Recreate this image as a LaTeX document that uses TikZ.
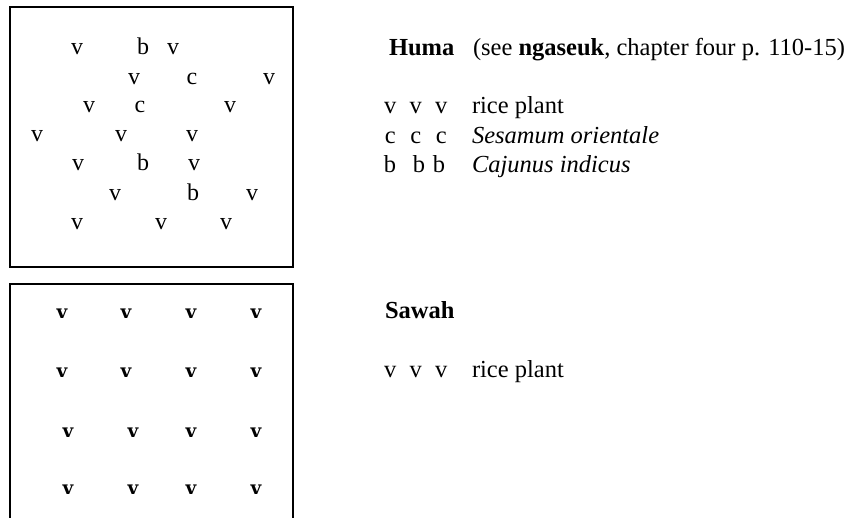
\documentclass[tikz,border=0pt]{standalone}
\usepackage{fontspec}
\setmainfont{Liberation Serif}
\newfontfamily\slabfont{DejaVu Serif}
\newcommand{\trio}[1]{\makebox[25.5pt]{#1}\makebox[25.5pt]{#1}\makebox[25.5pt]{#1}}
\tikzset{
  every node/.style={inner sep=0pt, outer sep=0pt},
  plant/.style={anchor=base, font=\fontsize{24}{26}\selectfont},
  splant/.style={anchor=base, font=\slabfont\bfseries\fontsize{18.5}{20}\selectfont},
  txt/.style={anchor=base west, font=\fontsize{24.5}{26}\selectfont},
  field/.style={line width=2.6pt, line join=miter},
}
\begin{document}
\begin{tikzpicture}[x=1pt,y=-1pt]
\useasboundingbox (0,0) rectangle (861,517);
% Huma field
\draw[field] (10,7) rectangle (293,267);
\foreach \x/\y/\t [count=\i] in {
  77/54/v,143/54/b,173/54/v,
  134/84/v,192/84/c,269/84/v,
  89/112/v,140/112/c,230/112/v,
  37/141/v,121/141/v,192/141/v,
  78/170/v,143/170/b,194/170/v,
  115/200/v,193/200/b,252/200/v,
  77/229/v,161/229/v,226/229/v}
  \node[plant] (h\i) at (\x,\y) {\t};
% Sawah field
\draw[field] (10,530) -- (10,284) -- (293,284) -- (293,530);
\foreach \x/\y [count=\i] in {
  62/318,126/318,191/318,256/318,
  62/377,126/377,191/377,256/377,
  68/437,133/437,191/437,256/437,
  68/494,133/494,191/494,256/494}
  \node[splant] (s\i) at (\x,\y) {v};
% legend Huma
\node[txt] (huma) at (389,55) {\textbf{Huma}};
\node[txt] (see) at (473,55) {(see \textbf{ngaseuk}, chapter four p. 110-15)};
\node[txt] (lv) at (377.5,113) {\trio{v}};
\node[txt] (lvt) at (472,113) {rice plant};
\node[txt] (lc) at (377.5,143) {\trio{c}};
\node[txt] (lct) at (472,143) {\textit{Sesamum orientale}};
\node[txt] (lb) at (377.5,172) {\makebox[25pt]{b}\makebox[33pt]{b}\makebox[7pt]{b}};
\node[txt] (lbt) at (472,172) {\textit{Cajunus indicus}};
% legend Sawah
\node[txt] (sawah) at (385,318) {\textbf{Sawah}};
\node[txt] (sv) at (377.5,377) {\trio{v}};
\node[txt] (svt) at (472,377) {rice plant};
\end{tikzpicture}
\end{document}
